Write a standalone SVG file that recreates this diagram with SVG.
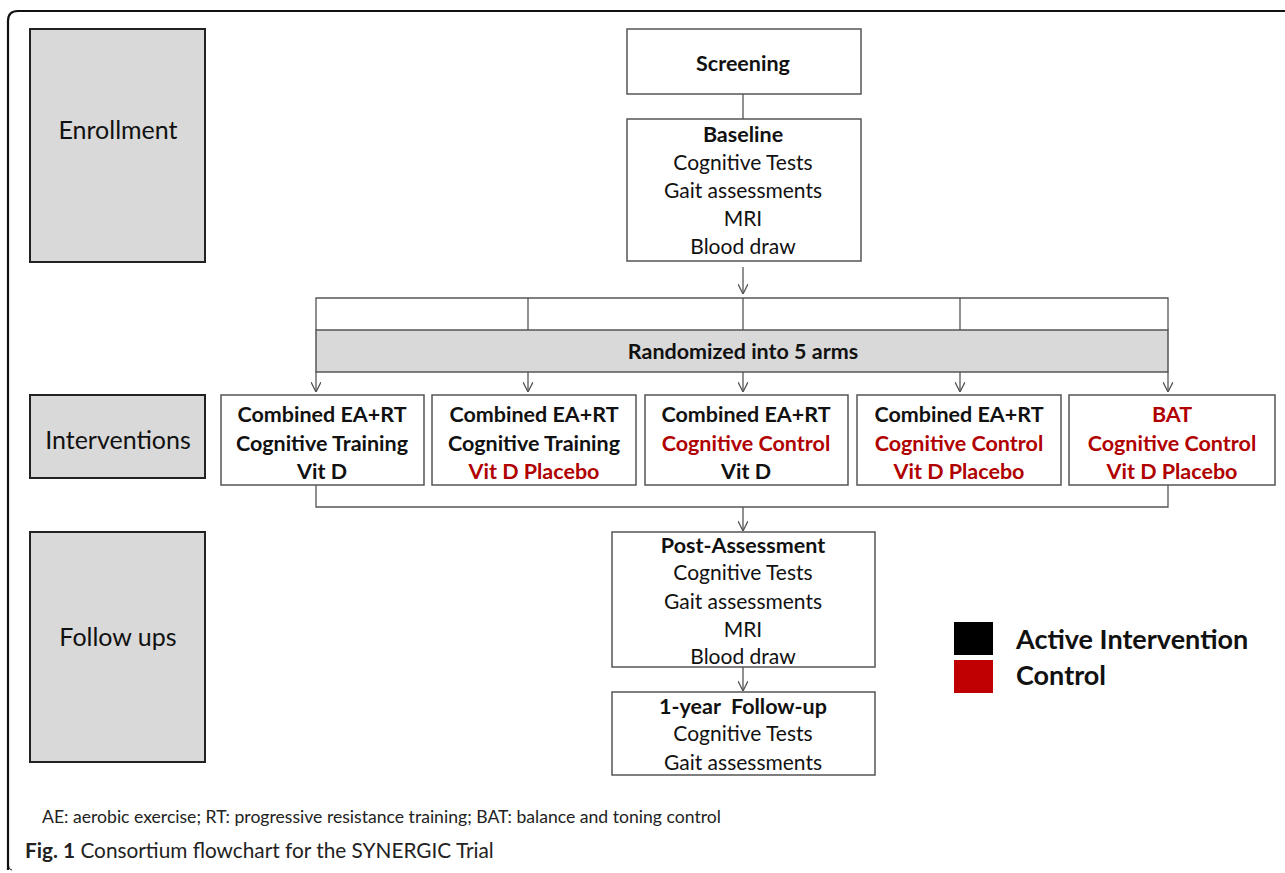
<svg xmlns="http://www.w3.org/2000/svg" width="1285" height="873" viewBox="0 0 1285 873">
<style>
text{font-family:Lato,"Open Sans","Liberation Sans",sans-serif;text-anchor:middle;fill:#111}
.phase{fill:#d9d9d9;stroke:#222;stroke-width:2}
.box{fill:#fff;stroke:#555;stroke-width:1.5}
.gray{fill:#d9d9d9;stroke:#555;stroke-width:1.5}
.t{font-size:21px}
.b{font-size:21.5px;font-weight:bold}
.p{font-size:25px}
.r{fill:#b00000}
.ln{fill:none;stroke:#555;stroke-width:1.3}
.ar{fill:none;stroke:#555;stroke-width:1.3;marker-end:url(#arr)}
</style>
<defs>
<marker id="arr" viewBox="0 0 10 10" refX="10" refY="5" markerWidth="10" markerHeight="10" markerUnits="userSpaceOnUse" orient="auto">
<path d="M0,0 L10,5 L0,10" fill="none" stroke="#555" stroke-width="1.3"/>
</marker>
</defs>
<rect x="0" y="0" width="1285" height="873" fill="#fff"/>
<path d="M8,870 L8,21 Q8,11 18,11 L1300,11" fill="none" stroke="#111" stroke-width="2.2"/>
<path d="M8,860 Q8,870 12,870" fill="none" stroke="#111" stroke-width="1"/>

<g id="enrollment"><rect class="phase" x="30" y="29" width="175" height="233"/><text class="p" x="118" y="139">Enrollment</text></g>
<g id="interventions"><rect class="phase" x="30" y="395" width="175" height="83"/><text class="p" x="118" y="449">Interventions</text></g>
<g id="followups"><rect class="phase" x="30" y="532" width="175" height="230"/><text class="p" x="118" y="646">Follow ups</text></g>

<g id="connectors">
<line class="ln" x1="743" y1="94" x2="743" y2="119"/>
<line class="ar" x1="743" y1="267" x2="743" y2="294"/>
<path class="ln" d="M316,330 V298 H1168 V330"/>
<line class="ln" x1="528" y1="298" x2="528" y2="330"/>
<line class="ln" x1="743" y1="298" x2="743" y2="330"/>
<line class="ln" x1="960" y1="298" x2="960" y2="330"/>
<line class="ar" x1="316" y1="372" x2="316" y2="392"/>
<line class="ar" x1="528" y1="372" x2="528" y2="392"/>
<line class="ar" x1="743" y1="372" x2="743" y2="392"/>
<line class="ar" x1="960" y1="372" x2="960" y2="392"/>
<line class="ar" x1="1168" y1="372" x2="1168" y2="392"/>
<path class="ln" d="M316,485 V507 H1168 V485"/>
<line class="ar" x1="743" y1="507" x2="743" y2="531"/>
<line class="ar" x1="743" y1="667" x2="743" y2="691"/>
</g>

<g id="screening"><rect class="box" x="627" y="29" width="234" height="65"/><text class="b" x="743" y="71">Screening</text></g>
<g id="baseline"><rect class="box" x="627" y="119" width="234" height="142"/>
<text class="b" x="743" y="142">Baseline</text>
<text class="t" x="743" y="170">Cognitive Tests</text>
<text class="t" x="743" y="198">Gait assessments</text>
<text class="t" x="743" y="226">MRI</text>
<text class="t" x="743" y="254">Blood draw</text></g>

<g id="randomized"><rect class="gray" x="316" y="330" width="852" height="42"/><text class="b" x="743" y="359">Randomized into 5 arms</text></g>

<g id="arm1"><rect class="box" x="221" y="395" width="203" height="90"/>
<text class="b" x="322" y="422">Combined EA+RT</text>
<text class="b" x="322" y="451">Cognitive Training</text>
<text class="b" x="322" y="479">Vit D</text></g>
<g id="arm2"><rect class="box" x="432" y="395" width="204" height="90"/>
<text class="b" x="534" y="422">Combined EA+RT</text>
<text class="b" x="534" y="451">Cognitive Training</text>
<text class="b r" x="534" y="479">Vit D Placebo</text></g>
<g id="arm3"><rect class="box" x="645" y="395" width="203" height="90"/>
<text class="b" x="746" y="422">Combined EA+RT</text>
<text class="b r" x="746" y="451">Cognitive Control</text>
<text class="b" x="746" y="479">Vit D</text></g>
<g id="arm4"><rect class="box" x="857" y="395" width="204" height="90"/>
<text class="b" x="959" y="422">Combined EA+RT</text>
<text class="b r" x="959" y="451">Cognitive Control</text>
<text class="b r" x="959" y="479">Vit D Placebo</text></g>
<g id="arm5"><rect class="box" x="1069" y="395" width="206" height="90"/>
<text class="b r" x="1172" y="422">BAT</text>
<text class="b r" x="1172" y="451">Cognitive Control</text>
<text class="b r" x="1172" y="479">Vit D Placebo</text></g>

<g id="post"><rect class="box" x="612" y="532" width="263" height="135"/>
<text class="b" x="743" y="553">Post-Assessment</text>
<text class="t" x="743" y="580">Cognitive Tests</text>
<text class="t" x="743" y="609">Gait assessments</text>
<text class="t" x="743" y="637">MRI</text>
<text class="t" x="743" y="664">Blood draw</text></g>
<g id="followup1"><rect class="box" x="612" y="692" width="263" height="83"/>
<text class="b" x="743" y="714" xml:space="preserve">1-year  Follow-up</text>
<text class="t" x="743" y="741">Cognitive Tests</text>
<text class="t" x="743" y="770">Gait assessments</text></g>

<g id="legend">
<rect x="954" y="622" width="39" height="33" fill="#000"/>
<rect x="954" y="660" width="39" height="33" fill="#c00000"/>
<text x="1016" y="649" style="text-anchor:start;font-size:27px;font-weight:bold">Active Intervention</text>
<text x="1016" y="685" style="text-anchor:start;font-size:27px;font-weight:bold">Control</text>
</g>

<text x="42" y="823" style="text-anchor:start;font-size:17.6px;fill:#222">AE: aerobic exercise; RT: progressive resistance training; BAT: balance and toning control</text>
<text x="25" y="858" style="text-anchor:start;font-size:20.8px;fill:#222"><tspan font-weight="bold">Fig. 1</tspan> Consortium flowchart for the SYNERGIC Trial</text>
</svg>
